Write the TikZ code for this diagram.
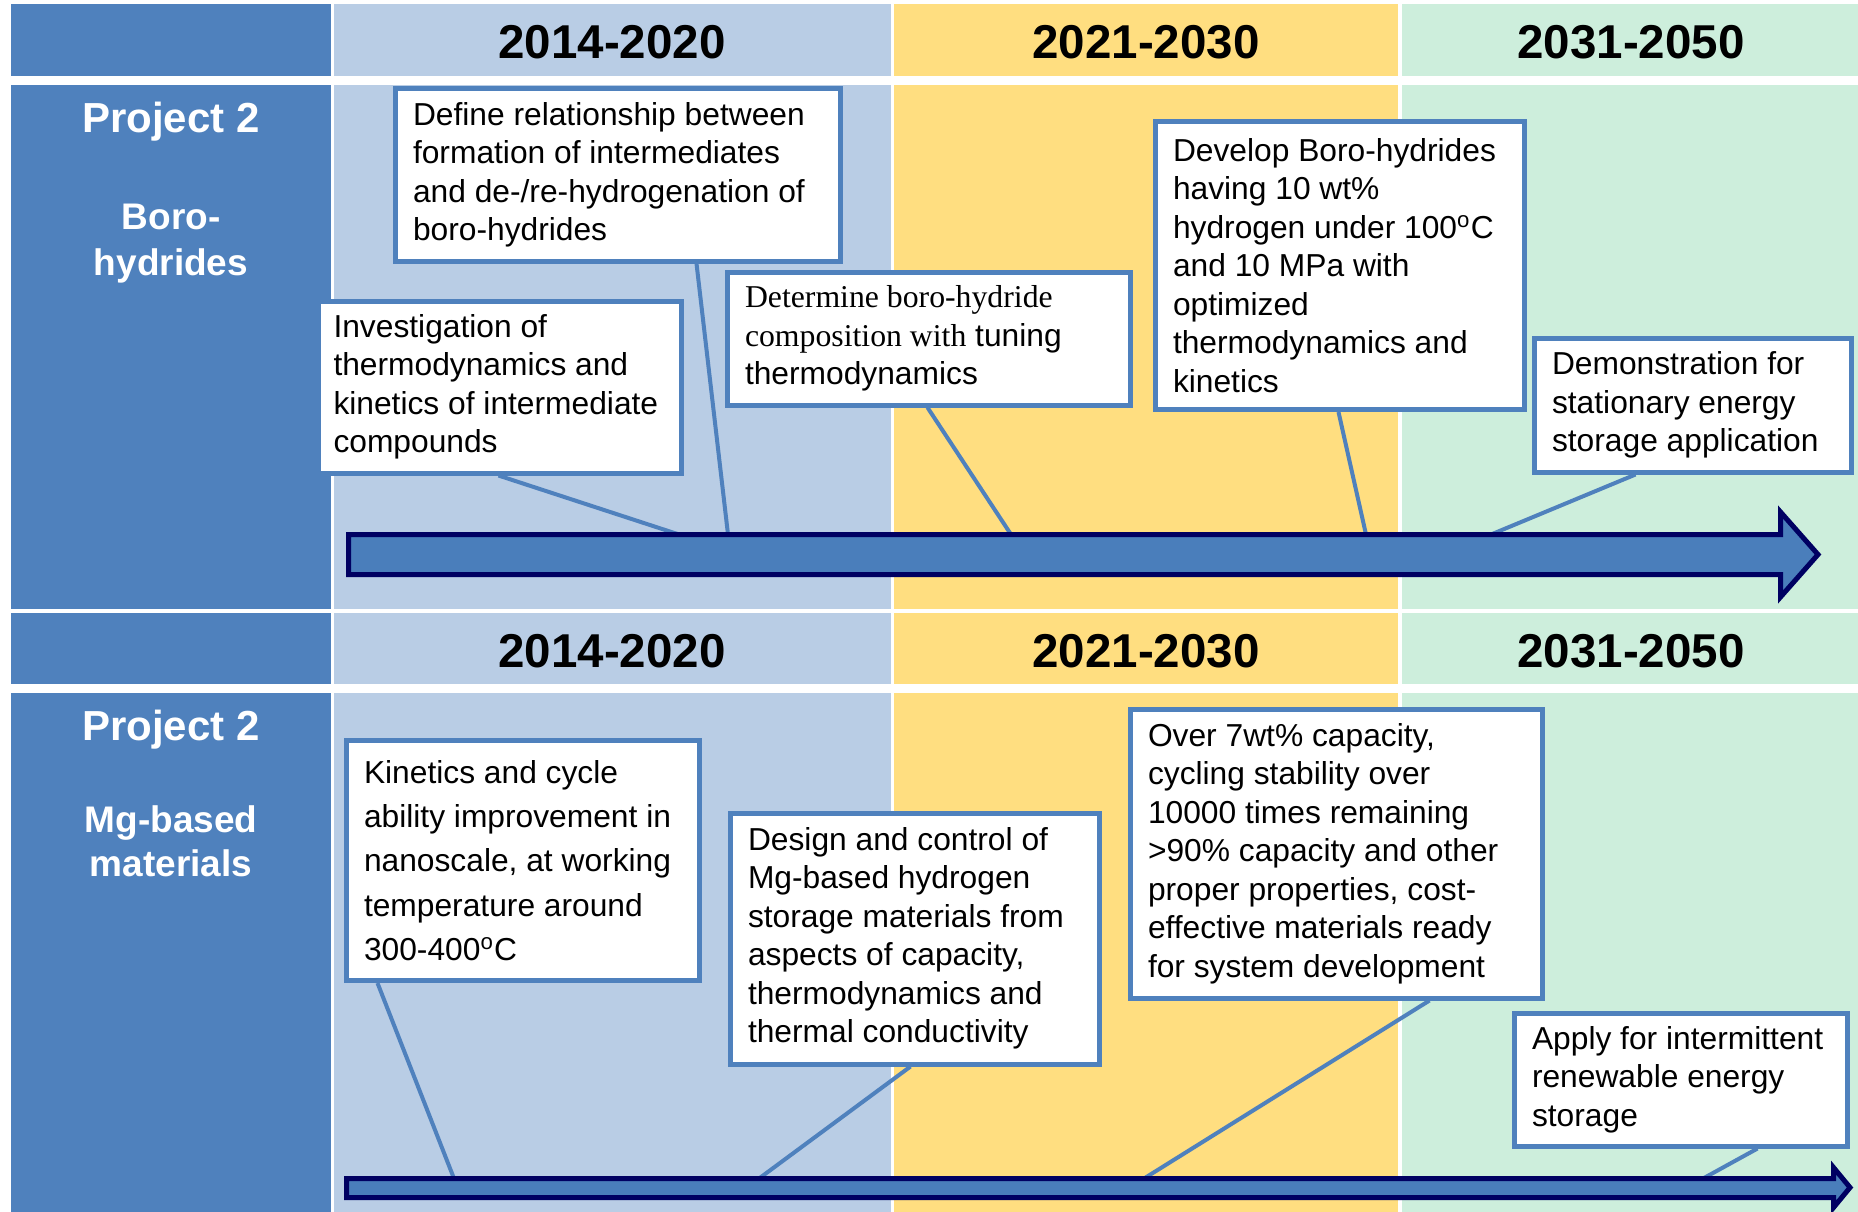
\documentclass[tikz,border=0pt]{standalone}
\usepackage{fontspec}
\setmainfont{Liberation Sans}
\newfontfamily\timesfont{Liberation Serif}
\usetikzlibrary{calc}
\definecolor{leftblue}{HTML}{4F81BD}
\definecolor{paleblue}{HTML}{B9CDE5}
\definecolor{gold}{HTML}{FFDE80}
\definecolor{mint}{HTML}{CDEEDC}
\definecolor{boxblue}{HTML}{4F81BD}
\definecolor{arrowblue}{HTML}{4A7EBB}
\definecolor{navy}{HTML}{000062}
\begin{document}
\begin{tikzpicture}[x=0.4pt, y=-0.4pt,
  box/.style={draw=boxblue, line width=2pt, fill=white, inner xsep=7pt, inner ysep=0pt, align=flush left, execute at begin node={\hyphenpenalty=10000 \hbadness=10000}, font=\fontsize{12.7}{15.4}\selectfont},
  link/.style={draw=boxblue, line width=1.6pt},
  bigarrow/.style={draw=navy, line width=2pt, fill=arrowblue, line join=miter},
  year/.style={anchor=base, font=\fontsize{19}{22}\selectfont\bfseries},
  proj/.style={anchor=base, text=white, font=\fontsize{16.8}{20}\selectfont\bfseries},
  topic/.style={anchor=base, text=white, font=\fontsize{14.8}{18}\selectfont\bfseries}]
\useasboundingbox (0,0) rectangle (1858,1212);
\fill[white] (0,0) rectangle (1858,1212);
\foreach \ya/\yb in {4/76, 85/609, 613/684, 693/1212} {
  \fill[leftblue] (11,\ya) rectangle (331,\yb);
  \fill[paleblue] (334,\ya) rectangle (891,\yb);
  \fill[gold] (894,\ya) rectangle (1398,\yb);
  \fill[mint] (1402,\ya) rectangle (1858,\yb);
}
\foreach \yy/\k in {59/a, 667/b} {
  \node[year] (first\k) at (612,\yy) {2014-2020};
  \node[year] (second\k) at (1146,\yy) {2021-2030};
  \node[year] (third\k) at (1631,\yy) {2031-2050};
}
\node[proj] (proja) at (171,132.5) {Project 2};
\node[topic] (boro1) at (171,229) {Boro-};
\node[topic] (boro2) at (171,275) {hydrides};
\node[proj] (projb) at (171,740) {Project 2};
\node[topic] (mg1) at (171,832) {Mg-based};
\node[topic] (mg2) at (171,876) {materials};

\node[box, minimum width=178pt, minimum height=68.8pt, text width=164pt] (b1) at (618,175)
  {Define relationship between\\formation of intermediates\\and de-/re-hydrogenation of\\boro-hydrides};
\node[box, minimum width=145.2pt, minimum height=68.8pt, inner xsep=6pt, text width=133.2pt] (b2) at (500,387)
  {Investigation of\\thermodynamics and\\kinetics of intermediate\\compounds};
\node[box, minimum width=161.2pt, minimum height=53.2pt, text width=147.2pt] (b3) at (929,338.5)
  {{\timesfont Determine boro-hydride}\\{\timesfont composition with} tuning\\thermodynamics};
\node[box, minimum width=147.6pt, minimum height=115.2pt, text width=133.6pt] (b4) at (1340,265.5)
  {Develop Boro-hydrides\\having 10 wt\%\\hydrogen under 100\textsuperscript{o}C\\and 10 MPa with\\optimized\\thermodynamics and\\kinetics};
\node[box, minimum width=126.8pt, minimum height=53.6pt, text width=112.8pt] (b5) at (1693,405)
  {Demonstration for\\stationary energy\\storage application};
\node[box, minimum width=141.2pt, minimum height=96pt, text width=127.2pt, font=\fontsize{12.7}{17.7}\selectfont] (b6) at (523,860.5)
  {Kinetics and cycle\\ability improvement in\\nanoscale, at working\\temperature around\\300-400\textsuperscript{o}C};
\node[box, minimum width=147.6pt, minimum height=100.4pt, text width=133.6pt] (b7) at (915,938.5)
  {Design and control of\\Mg-based hydrogen\\storage materials from\\aspects of capacity,\\thermodynamics and\\thermal conductivity};
\node[box, minimum width=164.8pt, minimum height=115.6pt, text width=150.8pt] (b8) at (1336.5,853.5)
  {Over 7wt\% capacity,\\cycling stability over\\10000 times remaining\\>90\% capacity and other\\proper properties, cost-\\effective materials ready\\for system development};
\node[box, minimum width=133.2pt, minimum height=53.2pt, text width=119.2pt] (b9) at (1681,1079.5)
  {Apply for intermittent\\renewable energy\\storage};

\coordinate (ta) at (679,534.5);
\coordinate (tb) at (728,534.5);
\coordinate (tc) at (1011,534.5);
\coordinate (td) at (1366,534.5);
\coordinate (te) at (1491,534.5);
\coordinate (ba) at (454,1178.5);
\coordinate (bb) at (759,1178.5);
\coordinate (bc) at (1144,1178.5);
\coordinate (bd) at (1703,1178.5);

\draw[link] ($(b2.south west)+(182.5,0)$) -- (ta);
\draw[link] ($(b1.south west)+(303.5,0)$) -- (tb);
\draw[link] ($(b3.south west)+(202.5,0)$) -- (tc);
\draw[link] ($(b4.south west)+(185.5,0)$) -- (td);
\draw[link] ($(b5.south west)+(103.5,0)$) -- (te);
\draw[link] ($(b6.south west)+(33.5,0)$) -- (ba);
\draw[link] ($(b7.south west)+(182.5,0)$) -- (bb);
\draw[link] ($(b8.south west)+(301.5,0)$) -- (bc);
\draw[link] ($(b9.south west)+(245.5,0)$) -- (bd);

\draw[bigarrow] (348.5,534.5) -- (1780.5,534.5) -- (1780.5,512) -- (1818,554.5) -- (1780.5,597) -- (1780.5,574.5) -- (348.5,574.5) -- cycle;
\draw[bigarrow] (346.5,1178.5) -- (1833.5,1178.5) -- (1833.5,1167.5) -- (1850,1187.5) -- (1833.5,1207.5) -- (1833.5,1197.5) -- (346.5,1197.5) -- cycle;
\end{tikzpicture}
\end{document}
